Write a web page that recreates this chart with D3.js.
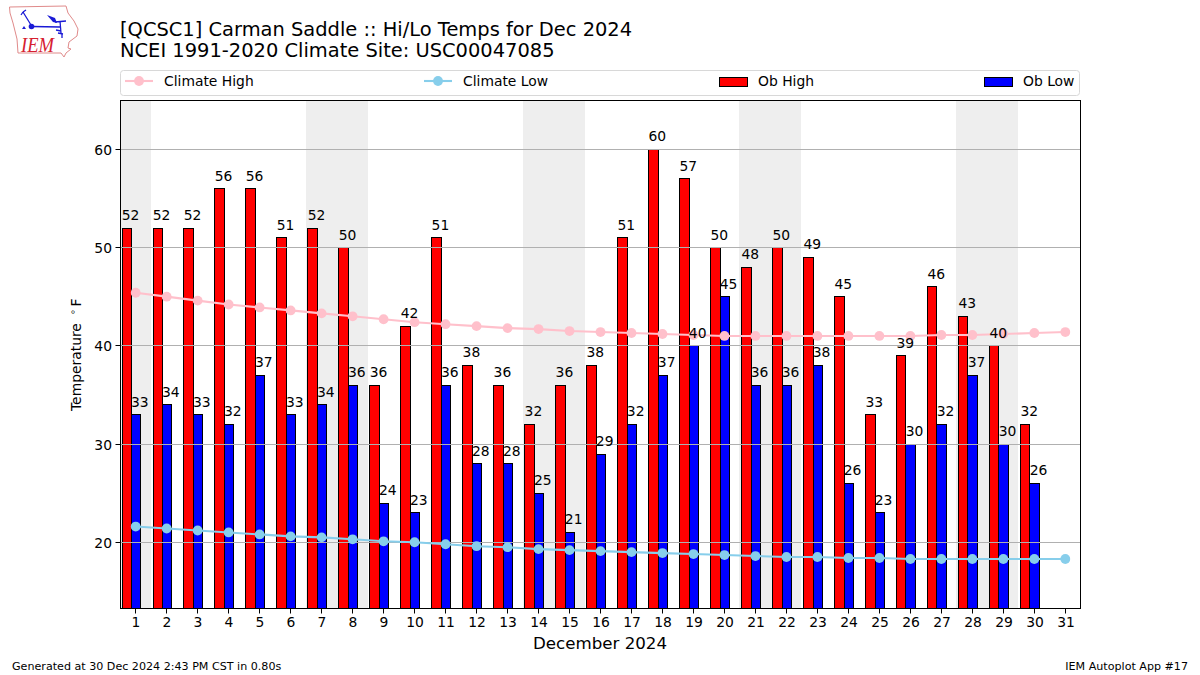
<!DOCTYPE html>
<html><head><meta charset="utf-8">
<script src="https://cdn.jsdelivr.net/npm/d3@7"></script>
<style>html,body{margin:0;padding:0;background:#fff}svg{display:block}text{font-family:"DejaVu Sans",sans-serif;fill:#000}</style>
</head><body><svg id="c" width="1200" height="675"></svg>
<script>
const days = d3.range(1, 32);
const obHigh = [52,52,52,56,56,51,52,50,36,42,51,38,36,32,36,38,51,60,57,50,48,50,49,45,33,39,46,43,40,32];
const obLow = [33,34,33,32,37,33,34,36,24,23,36,28,28,25,21,29,32,37,40,45,36,36,38,26,23,30,32,37,30,26];
const climateHigh = [45.4,45.0,44.6,44.2,43.9,43.6,43.3,43.0,42.7,42.4,42.2,42.0,41.8,41.7,41.5,41.4,41.3,41.2,41.1,41.0,41.0,41.0,41.0,41.0,41.0,41.0,41.1,41.1,41.2,41.3,41.4];
const climateLow = [21.6,21.4,21.2,21.0,20.8,20.6,20.5,20.3,20.1,20.0,19.8,19.6,19.5,19.3,19.2,19.1,19.0,18.9,18.8,18.7,18.6,18.5,18.5,18.4,18.4,18.3,18.3,18.3,18.3,18.3,18.3];
const weekends = [1,7,8,14,15,21,22,28,29];
const yTicks = [20,30,40,50,60];
const titleLines = ["[QCSC1] Carman Saddle :: Hi/Lo Temps for Dec 2024","NCEI 1991-2020 Climate Site: USC00047085"];

const svg = d3.select("#c");
const FL=120.5,FR=1080.5,FT=100.5,FB=608.5;
const x = d3.scaleLinear().domain([0.5,31.5]).range([120.2,1080.8]);
const y = d3.scaleLinear().domain([13.31,65.018]).range([608,100]);
const barW = 0.3;
const snapX = v => Math.floor(v+0.27)+0.5;
const snapY = v => Math.floor(v)+0.5;
const snapBarY = v => Math.floor(v+0.15)+0.5;

// weekend shading
svg.append("g").selectAll("rect").data(weekends).join("rect")
  .attr("x",d=>Math.floor(x(d-0.5))).attr("width",d=>Math.floor(x(d+0.5))-Math.floor(x(d-0.5)))
  .attr("y",FT).attr("height",FB-FT).attr("fill","#eeeeee");

// bars
function bars(vals,off,col){
  svg.append("g").selectAll("rect").data(vals).join("rect")
    .attr("x",(d,i)=>snapX(x(days[i]+off)))
    .attr("width",(d,i)=>snapX(x(days[i]+off+barW))-snapX(x(days[i]+off)))
    .attr("y",d=>snapBarY(y(d))).attr("height",d=>FB-snapBarY(y(d)))
    .attr("fill",col).attr("stroke","#000").attr("stroke-width",1);
}
bars(obHigh,-0.45,"#ff0000");
bars(obLow,-0.15,"#0000ff");

// grid
svg.append("g").selectAll("line").data(yTicks).join("line")
  .attr("x1",FL).attr("x2",FR).attr("y1",d=>snapY(y(d))).attr("y2",d=>snapY(y(d)))
  .attr("stroke","#b0b0b0").attr("stroke-width",1);

// climate lines
function climate(vals,col){
  const line=d3.line().x((d,i)=>x(days[i])).y(d=>y(d));
  svg.append("path").attr("d",line(vals)).attr("fill","none").attr("stroke",col).attr("stroke-width",2.1);
  svg.append("g").selectAll("circle").data(vals).join("circle")
    .attr("cx",(d,i)=>x(days[i])).attr("cy",d=>y(d)).attr("r",4.9).attr("fill",col);
}
climate(climateHigh,"#ffc0cb");
climate(climateLow,"#87ceeb");

// value labels
function labels(vals,off){
  svg.append("g").selectAll("text").data(vals).join("text")
    .attr("x",(d,i)=>x(days[i]+off)).attr("y",d=>y(d)-8)
    .attr("font-size",13.89).text(d=>d);
}
labels(obHigh,-0.45);
labels(obLow,-0.15);

// frame
svg.append("rect").attr("x",FL).attr("y",FT).attr("width",FR-FL).attr("height",FB-FT)
  .attr("fill","none").attr("stroke","#000").attr("stroke-width",1);

// axes
const gx=svg.append("g").attr("transform",`translate(0,${FB})`)
  .call(d3.axisBottom(x).offset(0).tickValues(days).tickFormat(d3.format("d")).tickSize(5).tickPadding(3.5));
gx.select(".domain").remove();
gx.selectAll(".tick").attr("transform",d=>`translate(${Math.floor(x(d))+0.5},0)`);
gx.selectAll(".tick text").attr("x",0.5);
const gy=svg.append("g").attr("transform",`translate(${FL},0)`)
  .call(d3.axisLeft(y).offset(0).tickValues(yTicks).tickSize(5).tickPadding(3.5));
gy.select(".domain").remove();
gy.selectAll(".tick").attr("transform",d=>`translate(0,${snapY(y(d))})`);
gy.selectAll(".tick text").attr("dy","0.36em");
svg.selectAll(".tick text").attr("font-size",13.89).attr("font-family","DejaVu Sans").attr("fill","#000");
svg.selectAll(".tick line").attr("stroke","#000").attr("stroke-width",1);

// axis labels
svg.append("text").attr("x",600).attr("y",649).attr("text-anchor","middle").attr("font-size",16.67).text("December 2024");
const yl=svg.append("g").attr("transform","translate(81,411) rotate(-90)");
yl.append("text").attr("x",0).attr("y",0).attr("font-size",13.89).text("Temperature");
yl.append("text").attr("x",96).attr("y",-5).attr("font-size",9.7).text("∘");
yl.append("text").attr("x",104.5).attr("y",0).attr("font-size",13.89).text("F");

// title
svg.selectAll(".ttl").data(titleLines).join("text").attr("class","ttl")
  .attr("x",120).attr("y",(d,i)=>36+i*21).attr("font-size",19.44).text(d=>d);

// legend
svg.append("rect").attr("x",120.5).attr("y",70.5).attr("width",959).attr("height",25).attr("rx",3)
  .attr("fill","#fff").attr("stroke","#d8d8d8").attr("stroke-width",1);
const legendNames=["Climate High","Climate Low","Ob High","Ob Low"];
const legendColors=["#ffc0cb","#87ceeb","#ff0000","#0000ff"];
const legendX=[125,424,719,984];
legendNames.forEach((n,i)=>{
  const g=svg.append("g").attr("transform",`translate(${legendX[i]},0)`);
  if(i<2){
    g.append("line").attr("x1",0).attr("x2",28).attr("y1",81).attr("y2",81).attr("stroke",legendColors[i]).attr("stroke-width",2.1);
    g.append("circle").attr("cx",14).attr("cy",81).attr("r",4.9).attr("fill",legendColors[i]);
  } else {
    g.append("rect").attr("x",0.5).attr("y",77.5).attr("width",28).attr("height",9).attr("fill",legendColors[i]).attr("stroke","#000");
  }
  g.append("text").attr("x",39).attr("y",86).attr("font-size",13.89).text(n);
});

// footer
svg.append("text").attr("x",12).attr("y",670).attr("font-size",11.11).text("Generated at 30 Dec 2024 2:43 PM CST in 0.80s");
svg.append("text").attr("x",1188).attr("y",670).attr("text-anchor","end").attr("font-size",11.11).text("IEM Autoplot App #17");

// logo
const logo=svg.append("g");
logo.append("path").attr("d","M9.5 7 L66 6 L68 13 L74 21 L78 29 L77 36 L69 42 L68 48 L71 49 L66 53 L64 57 L61 53 L18 53 L17 39 L13 23 L10 13 Z")
  .attr("fill","none").attr("stroke","#e08a8a").attr("stroke-width",1);
const blue="#1a1ad6";
logo.append("path").attr("d","M32 26.5 L60 27 M60 21 L61 33 M55 22 L66 21 M23 12 L31 25 M23 12 L21 15 M26 10 L23 12 M56 30 L61 31 M58 33 L63 34 M62 34 L62 38")
  .attr("fill","none").attr("stroke",blue).attr("stroke-width",1.3);
logo.append("path").attr("d","M47 15 L55 18 L57 23 L53 22 Z").attr("fill",blue);
logo.append("circle").attr("cx",31.5).attr("cy",26.5).attr("r",2.8).attr("fill",blue);
logo.append("path").attr("d","M24 26 L26 29 L22 29 Z").attr("fill",blue);
logo.append("text").attr("x",21).attr("y",52).attr("font-size",21).attr("font-style","italic")
  .attr("textLength",33).attr("lengthAdjust","spacingAndGlyphs")
  .style("font-family","Liberation Serif").style("fill","#d62030").text("IEM");
</script></body></html>
